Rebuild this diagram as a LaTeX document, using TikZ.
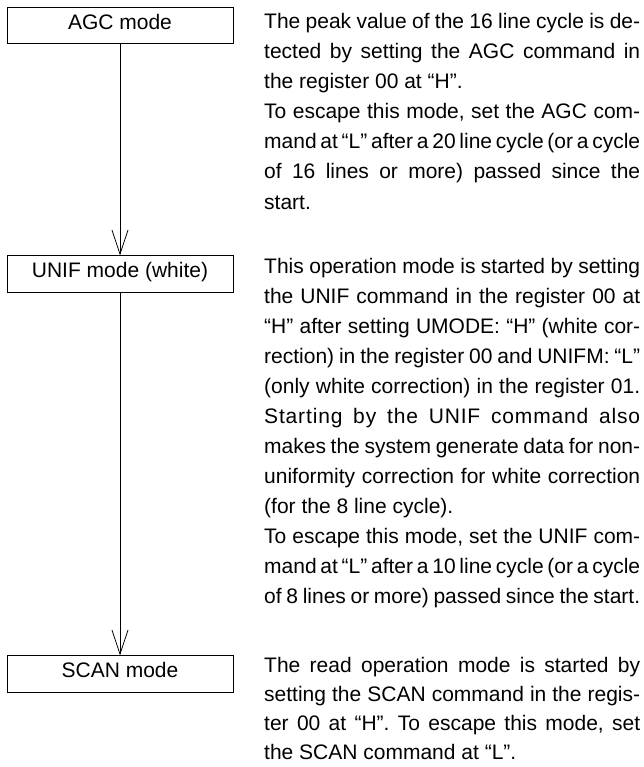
\documentclass[tikz,border=0pt]{standalone}
\usepackage{fontspec}
\setmainfont{Liberation Sans}
\usetikzlibrary{arrows.meta}
\newcommand\bodyfnt{\fontsize{21}{30}\selectfont\frenchspacing\spaceskip=0.278em plus 0.3em minus 0.13em\relax}
\newcommand\boxfnt{\fontsize{21}{30}\selectfont}
\newcommand\jl[1]{\hbox to 376pt{#1}}
\tikzset{
  modebox/.style={draw=black, line width=0.9pt, minimum width=226pt, minimum height=36.5pt,
    inner sep=0pt, font=\boxfnt, text height=0.72em, text depth=0pt},
  flow/.style={draw=black, line width=0.8pt, -{Straight Barb[length=24pt,width=16pt,line width=0.8pt]}},
  tx/.style={anchor=base west, inner sep=0pt, font=\bodyfnt}
}
\begin{document}
\begin{tikzpicture}[x=1pt,y=-1pt]
\useasboundingbox (0,0) rectangle (644,767);
% mode boxes
\node[modebox] (agc) at (120,25.5) {AGC mode};
\node[modebox] (unif) at (120,274) {UNIF mode (white)};
\node[modebox] (scan) at (120,674) {SCAN mode};
\draw[flow] (agc) -- (unif);
\draw[flow] (unif) -- (scan);
% paragraph 1
\node[tx] (a1) at (264,29)  {\jl{The peak value of the 16 line cycle is de-}};
\node[tx] (a2) at (264,59)  {\jl{tected by setting the AGC command in}};
\node[tx] (a3) at (264,89)  {the register 00 at “H”.};
\node[tx] (a4) at (264,119) {\jl{To escape this mode, set the AGC com-}};
\node[tx] (a5) at (264,149) {\jl{mand at “L” after a 20 line cycle (or a cycle}};
\node[tx] (a6) at (264,179) {\jl{of 16 lines or more) passed since the}};
\node[tx] (a7) at (264,209) {start.};
% paragraph 2
\node[tx] (b1)  at (264,273) {\jl{This operation mode is started by setting}};
\node[tx] (b2)  at (264,303) {\jl{the UNIF command in the register 00 at}};
\node[tx] (b3)  at (264,333) {\jl{“H” after setting UMODE: “H” (white cor-}};
\node[tx] (b4)  at (264,363) {\jl{rection) in the register 00 and UNIFM: “L”}};
\node[tx] (b5)  at (264,393) {\jl{(only white correction) in the register 01.}};
\node[tx] (b6)  at (264,423) {\jl{\addfontfeature{LetterSpace=4}\spaceskip=0.278em plus 0.3em minus 0.13em\relax Starting by the UNIF command also}};
\node[tx] (b7)  at (264,453) {\jl{makes the system generate data for non-}};
\node[tx] (b8)  at (264,483) {\jl{uniformity correction for white correction}};
\node[tx] (b9)  at (264,513) {(for the 8 line cycle).};
\node[tx] (b10) at (264,543) {\jl{To escape this mode, set the UNIF com-}};
\node[tx] (b11) at (264,573) {\jl{mand at “L” after a 10 line cycle (or a cycle}};
\node[tx] (b12) at (264,603) {\jl{of 8 lines or more) passed since the start.}};
% paragraph 3
\node[tx] (c1) at (264,672) {\jl{The read operation mode is started by}};
\node[tx] (c2) at (264,701) {\jl{setting the SCAN command in the regis-}};
\node[tx] (c3) at (264,730) {\jl{ter 00 at “H”. To escape this mode, set}};
\node[tx] (c4) at (264,759) {the SCAN command at “L”.};
\end{tikzpicture}
\end{document}
